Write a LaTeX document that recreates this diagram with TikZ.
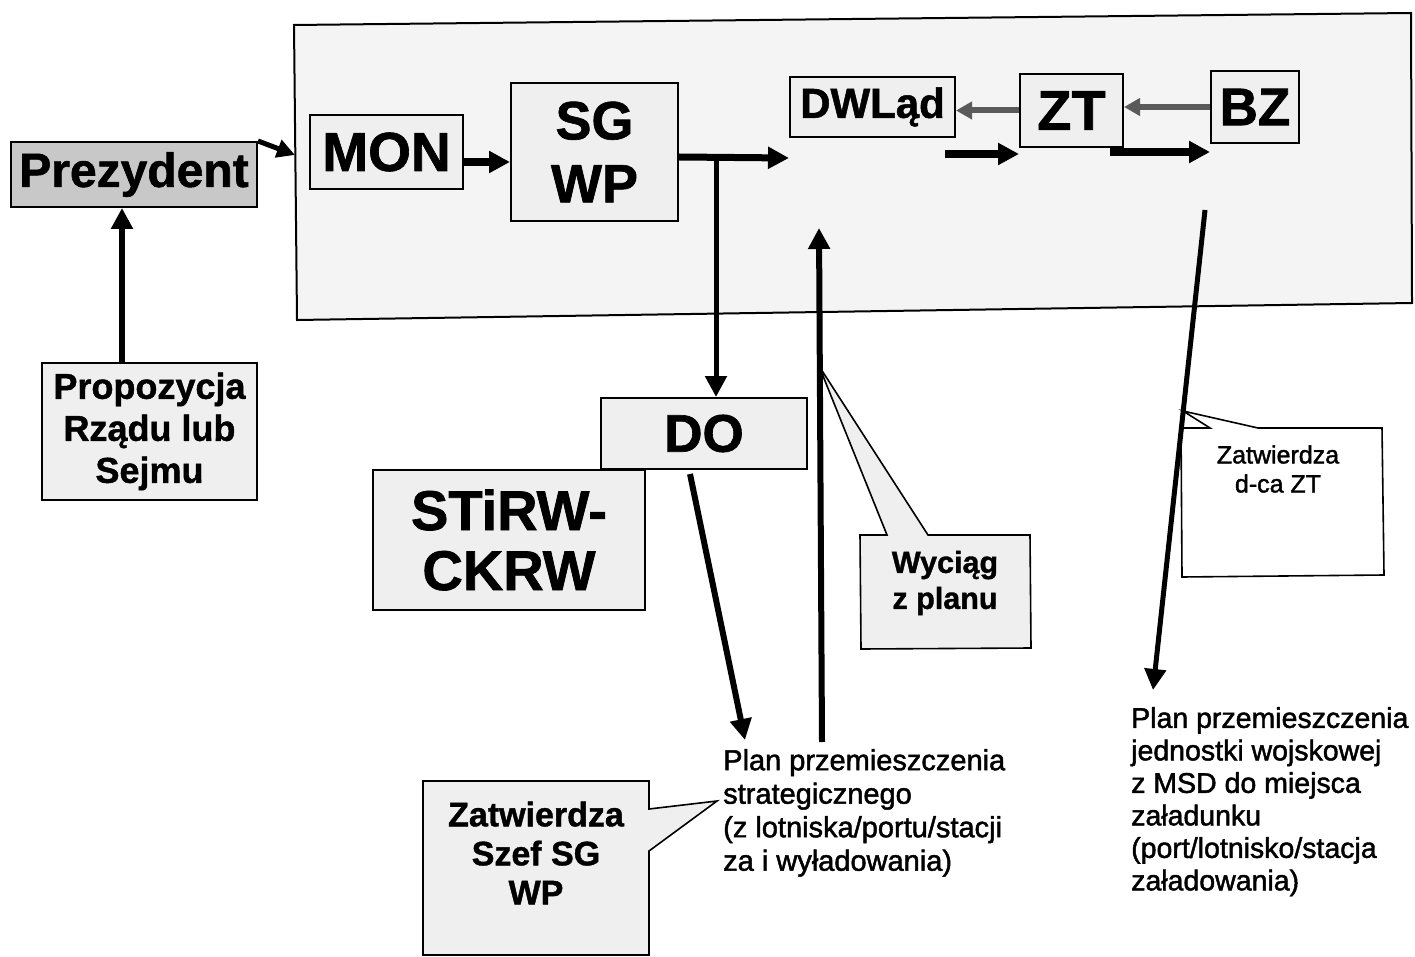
\documentclass[tikz,border=0pt]{standalone}
\usepackage{fontspec}
\setmainfont{Liberation Sans}[BoldFeatures={FakeBold=1.2}]
\newfontfamily\medfont{Liberation Sans}[FakeBold=1.6]
\usetikzlibrary{arrows.meta,calc}
\definecolor{panelfill}{HTML}{F4F4F4}
\definecolor{boxfill}{HTML}{EFEFEF}
\definecolor{prezfill}{HTML}{C8C8C8}
\definecolor{grayarrow}{HTML}{5A5A5A}
\newcommand\fsb[2]{\fontsize{#1}{#2}\selectfont\bfseries}
\newcommand\fsr[2]{\fontsize{#1}{#2}\selectfont\medfont}
\begin{document}
\begin{tikzpicture}[x=1pt,y=-1pt,
  box/.style={draw=black, line width=2pt, fill=boxfill, inner sep=0pt, align=center},
  callout/.style={draw=black, line width=1.6pt, line join=miter},
  blk/.style={line width=#1, draw=black, -{Triangle[length=21pt,width=21pt]}},
  gry/.style={line width=6pt, draw=grayarrow, -{Triangle[length=16pt,width=17pt]}},
  plantext/.style={anchor=north west, inner sep=0pt, align=left}]
\path[use as bounding box] (0,0) rectangle (1415,957);
\fill[white] (0,0) rectangle (1415,957);

% panel
\draw[line width=2pt, fill=panelfill] (294,25) -- (1411,13) -- (1412,303) -- (297,320) -- cycle;
\coordinate (panelW) at (295,155);

% boxes
\node[box, fill=prezfill, minimum width=246pt, minimum height=65pt, font=\fsb{48}{52}] (prez) at (134,174.5) {Prezydent};
\node[box, minimum width=153pt, minimum height=74pt, font=\fsb{55}{60}] (mon) at (386.5,152) {MON};
\node[box, minimum width=167pt, minimum height=138pt, font=\fsb{54}{63}] (sgwp) at (594.5,152) {SG\\WP};
\node[box, minimum width=165pt, minimum height=60pt, font=\fsb{42}{46}] (dwl) at (872.5,107) {DWLąd};
\node[box, minimum width=103pt, minimum height=73pt, font=\fsb{56}{60}] (zt) at (1071.5,110.5) {ZT};
\node[box, minimum width=88pt, minimum height=72pt, font=\fsb{53}{58}] (bz) at (1255,107) {BZ};
\node[box, minimum width=215pt, minimum height=137pt, font=\fsb{36}{42}] (prop) at (149.5,431.5) {Propozycja\\Rządu lub\\Sejmu};
\node[box, minimum width=272pt, minimum height=140pt, font=\fsb{56}{60}] (stirw) at (509,540) {STiRW-\\CKRW};
\node[box, minimum width=206pt, minimum height=71pt, font=\fsb{53}{58}] (do) at (704,433.5) {DO};

% callouts
\draw[callout, fill=boxfill] (860,535) -- (887,535) -- (819,366) -- (928,535) -- (1030,535) -- (1031,648) -- (861,649) -- cycle;
\node[inner sep=0pt, align=center, font=\fsb{30.5}{36}] (wyc) at (945,583) {Wyciąg\\z planu};

\draw[callout, fill=boxfill] (423,781) -- (649,781) -- (649,809) -- (717,801) -- (649,851) -- (649,955) -- (423,955) -- cycle;
\node[inner sep=0pt, align=center, font=\fsb{34}{39}] (szef) at (536,853) {Zatwierdza\\Szef SG\\WP};

\draw[callout, fill=white] (1181,428) -- (1210,428) -- (1183,411) -- (1258,428) -- (1382,428) -- (1384,575) -- (1182,577) -- cycle;
\node[inner sep=0pt, align=center, font=\fsr{25}{29}] (dca) at (1278,469) {Zatwierdza\\d-ca ZT};

% plan texts
\node[plantext, font=\fsr{29}{33.5}] (planA) at (723,749) {Plan przemieszczenia\\strategicznego\\(z lotniska/portu/stacji\\za i wyładowania)};
\node[plantext, font=\fsr{28.5}{32.5}] (planB) at (1131,707) {Plan przemieszczenia\\jednostki wojskowej\\z MSD do miejsca\\załadunku\\(port/lotnisko/stacja\\załadowania)};

% connectors
\draw[blk=6pt] ([xshift=-27.5pt]prop.north) -- ([xshift=-12pt]prez.south);
\draw[line width=5pt, -{Triangle[length=18pt,width=18pt]}] (prez.north east) -- (panelW);
\draw[blk=8pt] ([yshift=-10pt]mon.east) -- ([yshift=-10pt]mon.east -| sgwp.west);
\coordinate (branch) at (716,157);
\draw[blk=7pt] ([yshift=-5pt]sgwp.east) -- ([yshift=-20pt]dwl.south west);
\draw[blk=5pt] (branch) -- (branch |- do.north);
\draw[gry] (zt.west) -- (zt.west -| dwl.east);
\draw[gry] (bz.west) -- (bz.west -| zt.east);
\coordinate (a1) at (945,154);
\draw[blk=8pt] (a1) -- (a1 -| zt.west);
\coordinate (a2) at (1110,152);
\draw[blk=8pt] (a2) -- (a2 -| bz.west);
\coordinate (doend) at (745,740);
\draw[blk=6pt] ([xshift=-14pt,yshift=-4pt]do.south) -- (doend);
\coordinate (upstart) at (822,742);
\coordinate (upend) at (819,228);
\draw[blk=6pt] (upstart) -- (upend);
\coordinate (bzs) at (1205,210);
\coordinate (bze) at (1153,690);
\draw[blk=5pt] (bzs) -- (bze);
\end{tikzpicture}
\end{document}
